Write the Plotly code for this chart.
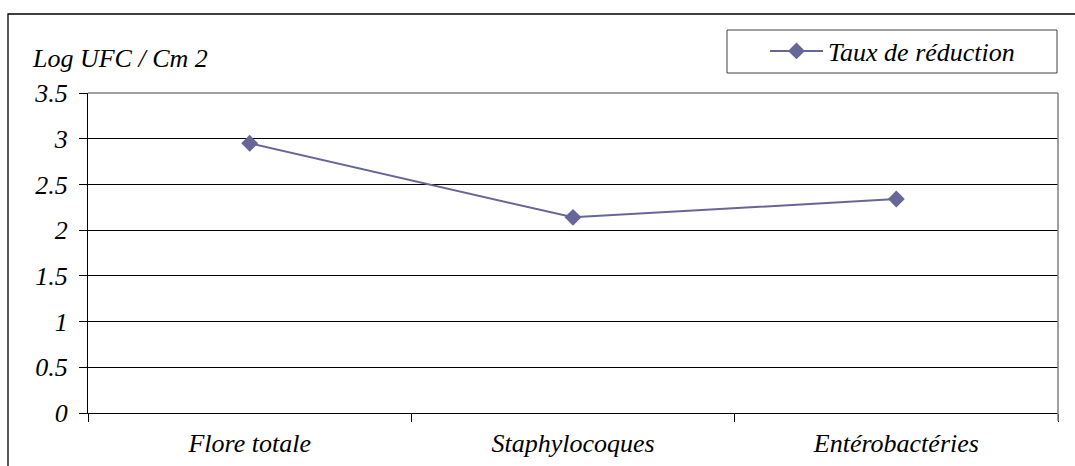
import plotly.graph_objects as go

categories = ["Flore totale", "Staphylocoques", "Entérobactéries"]
values = [2.95, 2.14, 2.34]
series_name = "Taux de réduction"
y_title = "Log UFC / Cm 2"

FONT = dict(family="Liberation Serif", size=26, color="black", style="italic")
LINE_COLOR = "#666699"

L, R, T, B = 88, 17, 93, 53
W, H = 1075, 466
pw, ph = W - L - R, H - T - B

def px_x(x):
    return (x - L) / pw

def px_y(y):
    return (H - B - y) / ph

fig = go.Figure()
fig.add_trace(go.Scatter(
    x=categories, y=values, name=series_name, mode="lines+markers",
    line=dict(color=LINE_COLOR, width=2),
    marker=dict(symbol="diamond", size=13, color=LINE_COLOR),
))

fig.update_layout(
    width=W, height=H,
    margin=dict(l=L, r=R, t=T, b=B, autoexpand=False),
    paper_bgcolor="white", plot_bgcolor="white",
    font=FONT,
    showlegend=True,
    legend=dict(x=px_x(765), y=px_y(51), xanchor="left", yanchor="middle", itemwidth=53,
                bgcolor="rgba(0,0,0,0)", borderwidth=0, font=FONT),
    xaxis=dict(type="category", range=[-0.5, 2.5], showgrid=False, automargin=False,
               tickson="boundaries", ticks="outside", ticklen=8, tickcolor="black",
               showline=True, linecolor="black", linewidth=1,
               tickfont=FONT, zeroline=False, ticklabelstandoff=7),
    yaxis=dict(range=[0, 3.5], dtick=0.5, tick0=0, showgrid=True, gridcolor="black", gridwidth=1,
               automargin=False,
               ticks="outside", ticklen=8, tickcolor="black",
               showline=True, linecolor="black", linewidth=1,
               tickfont=FONT, zeroline=False, ticklabelstandoff=6),
    shapes=[
        dict(type="rect", xref="paper", yref="paper",
             x0=px_x(8), x1=px_x(1090), y0=px_y(490), y1=px_y(14),
             line=dict(color="black", width=1.3), fillcolor="rgba(0,0,0,0)", layer="above"),
        dict(type="line", xref="paper", yref="paper", x0=0, x1=1, y0=1, y1=1,
             line=dict(color="#808080", width=1.5), layer="above"),
        dict(type="line", xref="paper", yref="paper", x0=1, x1=1, y0=px_y(421), y1=1,
             line=dict(color="#808080", width=1.5), layer="above"),
        dict(type="rect", xref="paper", yref="paper",
             x0=px_x(727), x1=px_x(1057), y0=px_y(73), y1=px_y(30),
             line=dict(color="#404040", width=1), fillcolor="rgba(0,0,0,0)", layer="above"),
    ],
    annotations=[
        dict(text=y_title, xref="paper", yref="paper", x=px_x(30), y=px_y(58),
             xanchor="left", yanchor="middle", showarrow=False, font=FONT),
    ],
)

fig.write_html("out.html")
